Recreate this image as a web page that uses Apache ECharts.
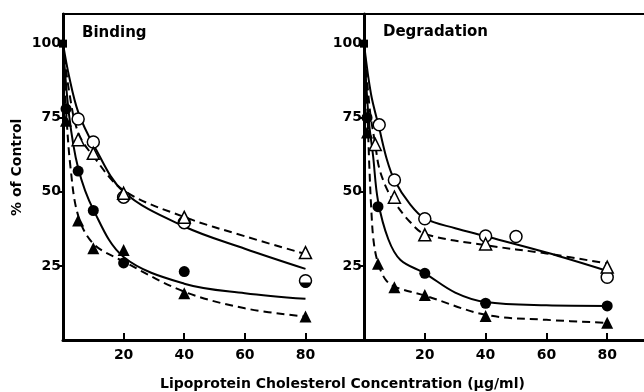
<!DOCTYPE html>
<html>
<head>
<meta charset="utf-8">
<script src="https://cdn.jsdelivr.net/npm/echarts@6/dist/echarts.min.js"></script>
<style>
  html, body { margin: 0; padding: 0; background: #fff; }
  #chart { width: 644px; height: 392px; }
</style>
</head>
<body>
<div id="chart"></div>
<script>
// tick values
const xTicks = [20, 40, 60, 80];
const yTicks = [25, 50, 75, 100];
const panelTitles = ['Binding', 'Degradation'];

// control point (both panels)
const control = [[0, 100]];

// Binding - measured points
const bindOpenCircle = [[5, 74.6], [10, 66.8], [20, 48.2], [40, 39.6], [80, 20]];
const bindOpenTriangle = [[5, 67.6], [10, 63], [20, 49.5], [40, 41.4], [80, 29.5]];
const bindFilledCircle = [[1, 78], [5, 57], [10, 43.7], [20, 26], [40, 23.1], [80, 19.4]];
const bindFilledTriangle = [[1, 74], [5, 40.3], [10, 31], [20, 30.4], [40, 15.8], [80, 7.9]];

// Binding - fitted curves
const bindCurveOpenCircle = [[0, 100], [2, 89], [5, 77], [10, 66], [20, 50], [40, 38.3], [60, 30.8], [80, 24]];
const bindCurveOpenTriangle = [[0, 100], [2, 84], [5, 70], [10, 62], [20, 50.5], [40, 41.5], [60, 35], [80, 29]];
const bindCurveFilledCircle = [[0, 100], [2, 76], [5, 58], [10, 44], [20, 28], [40, 19], [60, 15.8], [80, 13.9]];
const bindCurveFilledTriangle = [[0, 100], [1, 78], [2.5, 58], [5, 42], [10, 32.5], [20, 26.5], [40, 16.3], [60, 10.7], [80, 7.9]];

// Degradation - measured points
const degOpenCircle = [[5, 72.6], [10, 54], [20, 40.9], [40, 35.1], [50, 34.9], [80, 21.2]];
const degOpenTriangle = [[3.7, 66], [10, 48.2], [20, 35.5], [40, 32.4], [80, 24.6]];
const degFilledCircle = [[1, 75], [4.6, 45], [20, 22.5], [40, 12.4], [80, 11.5]];
const degFilledTriangle = [[1, 70], [4.6, 25.7], [10, 17.8], [20, 15.2], [40, 8.1], [80, 5.8]];

// Degradation - fitted curves
const degCurveOpenCircle = [[0, 100], [2.3, 83], [5, 71.5], [7.5, 61], [10, 54], [15, 46], [20, 41], [30, 37.7], [40, 35], [60, 29.5], [80, 23.3]];
const degCurveOpenTriangle = [[0, 100], [2, 77], [3.7, 66], [5, 58], [7.5, 51], [10, 46.5], [15, 40], [20, 35.8], [40, 32], [60, 29.2], [80, 25.8]];
const degCurveFilledCircle = [[0, 100], [1.5, 75], [3, 62], [4.6, 47], [8, 34], [12, 27], [20, 22.5], [30, 16], [40, 12.8], [60, 11.7], [80, 11.5]];
const degCurveFilledTriangle = [[0, 100], [1, 80], [1.7, 60], [2.4, 44], [3.2, 33], [4.6, 26], [7, 20.5], [10, 18], [20, 15], [40, 8.5], [60, 6.8], [80, 5.8]];

const FONT = '"DejaVu Sans", "Liberation Sans", sans-serif';
const chart = echarts.init(document.getElementById('chart'), null, { renderer: 'canvas' });

function xAxis(idx, max) {
  return {
    gridIndex: idx, type: 'value', min: 0, max: max, interval: 20,
    axisLine: { show: true, lineStyle: { color: '#000', width: 3 } },
    axisTick: { show: true, inside: true, length: 7, customValues: xTicks, lineStyle: { color: '#000', width: 2 } },
    axisLabel: {
      color: '#000', fontWeight: 'bold', fontSize: 14, fontFamily: FONT, margin: 8,
      customValues: xTicks
    },
    splitLine: { show: false }
  };
}
// plain frame line along the top of the right panel (its right edge is cut off)
function topFrame(idx, max) {
  return {
    gridIndex: idx, type: 'value', position: 'top', min: 0, max: max,
    axisLine: { show: true, onZero: false, lineStyle: { color: '#000', width: 2 } },
    axisTick: { show: false }, axisLabel: { show: false }, splitLine: { show: false }
  };
}
function yAxis(idx) {
  return {
    gridIndex: idx, type: 'value', min: 0, max: 110, interval: 25,
    axisLine: { show: true, lineStyle: { color: '#000', width: 3 } },
    axisTick: { show: true, length: 4, customValues: yTicks, lineStyle: { color: '#000', width: 2 } },
    axisLabel: {
      color: '#000', fontWeight: 'bold', fontSize: 14, fontFamily: FONT, margin: 2,
      customValues: yTicks
    },
    splitLine: { show: false }
  };
}

function curve(idx, data, dashed) {
  return {
    type: 'line', xAxisIndex: idx, yAxisIndex: idx, data: data,
    smooth: 0.35, showSymbol: false, silent: true,
    lineStyle: { color: '#000', width: 2, type: dashed ? [8, 5] : 'solid' }, z: 2
  };
}
function marks(idx, data, symbol, filled, size) {
  return {
    type: 'scatter', xAxisIndex: idx, yAxisIndex: idx, data: data,
    symbol: symbol, symbolSize: size,
    itemStyle: filled
      ? { color: '#000', opacity: 1 }
      : { color: '#fff', borderColor: '#000', borderWidth: 1.5, opacity: 1 },
    z: 5
  };
}

// the binding filled circle at 80 sits on an open circle: only its lower half is filled
const halfDisk = 'path://M0,10 A10,10 0 0,0 20,10 Z';
const bindFilledCircleShown = bindFilledCircle.map(p =>
  p[0] === 80 ? { value: p, symbol: halfDisk, symbolSize: [11, 5.5], symbolOffset: [0, 2.75] } : p
);

const option = {
  animation: false,
  backgroundColor: '#fff',
  grid: [
    { left: 63, top: 14, width: 301, bottom: 52, show: true, borderColor: '#000', borderWidth: 2 },
    { left: 364, top: 14, right: 0, bottom: 52 }
  ],
  xAxis: [xAxis(0, 99.3), xAxis(1, 92.1), topFrame(1, 92.1)],
  yAxis: [yAxis(0), yAxis(1)],
  graphic: [
    { type: 'text', left: 82, top: 26, style: { text: panelTitles[0], font: 'bold 15px ' + FONT, fill: '#000' } },
    { type: 'text', left: 383, top: 25, style: { text: panelTitles[1], font: 'bold 15px ' + FONT, fill: '#000' } },
    { type: 'text', left: 160, top: 377, style: { text: 'Lipoprotein Cholesterol Concentration (µg/ml)', font: 'bold 14px ' + FONT, fill: '#000' } },
    { type: 'text', x: 10, y: 216, rotation: Math.PI / 2, style: { text: '% of Control', font: 'bold 14px ' + FONT, fill: '#000' } }
  ],
  series: [
    curve(0, bindCurveOpenCircle, false),
    curve(0, bindCurveOpenTriangle, true),
    curve(0, bindCurveFilledCircle, false),
    curve(0, bindCurveFilledTriangle, true),
    marks(0, bindOpenCircle, 'circle', false, 12),
    marks(0, bindOpenTriangle, 'triangle', false, 12),
    marks(0, bindFilledCircleShown, 'circle', true, 11),
    marks(0, bindFilledTriangle, 'triangle', true, 12),
    marks(0, control, 'rect', true, 8),

    curve(1, degCurveOpenCircle, false),
    curve(1, degCurveOpenTriangle, true),
    curve(1, degCurveFilledCircle, false),
    curve(1, degCurveFilledTriangle, true),
    marks(1, degOpenCircle, 'circle', false, 12),
    marks(1, degOpenTriangle, 'triangle', false, 12),
    marks(1, degFilledCircle, 'circle', true, 11),
    marks(1, degFilledTriangle, 'triangle', true, 12),
    marks(1, control, 'rect', true, 8)
  ]
};
chart.setOption(option);
</script>
</body>
</html>
